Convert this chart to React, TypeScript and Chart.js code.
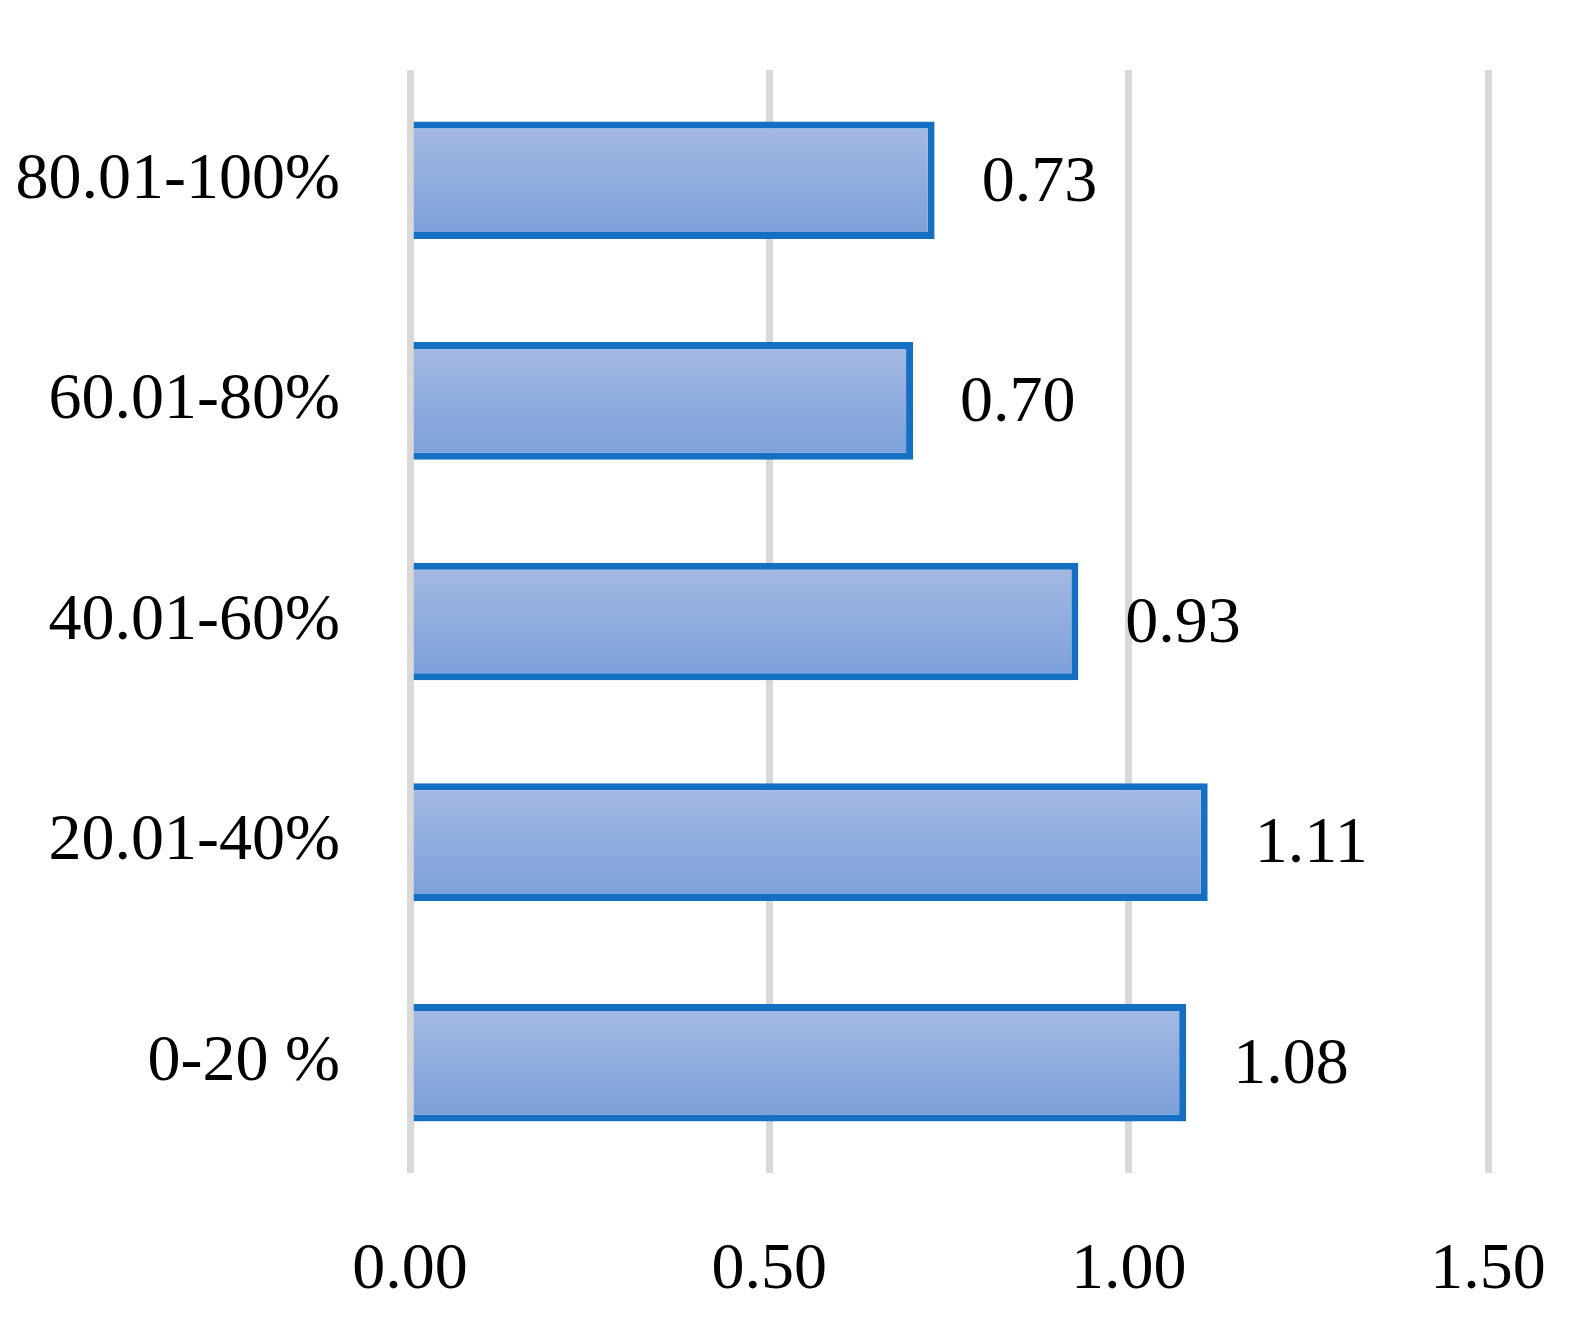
import React, { useEffect, useRef } from 'react';
import { Chart, registerables } from 'chart.js';

Chart.register(...registerables);

// data, bottom to top as in the source table
const groups = ['0-20 %', '20.01-40%', '40.01-60%', '60.01-80%', '80.01-100%'];
const ratios = [1.08, 1.11, 0.93, 0.70, 0.73];
const axisTicks = [0, 0.5, 1.0, 1.5];

const FONT = '"Liberation Serif", "DejaVu Serif", serif';

const barValueLabels = {
    id: 'barValueLabels',
    afterDatasetsDraw(chart: any) {
        const ctx = chart.ctx;
        const meta = chart.getDatasetMeta(0);
        ctx.save();
        ctx.font = `66px ${FONT}`;
        ctx.fillStyle = '#000000';
        ctx.textAlign = 'left';
        ctx.textBaseline = 'middle';
        meta.data.forEach((bar: any, i: number) => {
            ctx.fillText(ratios[i].toFixed(2), bar.x + 47, bar.y + 3);
        });
        ctx.restore();
    },
};

export default function App() {
    const canvasRef = useRef<HTMLCanvasElement | null>(null);

    useEffect(() => {
        let chart: Chart | null = null;
        if (canvasRef.current) {
            chart = new Chart(canvasRef.current, {
                type: 'bar',
                data: {
                    labels: groups,
                    datasets: [
                        {
                            data: ratios,
                            backgroundColor: (c: any) => {
                                const ch = c.chart;
                                if (!ch.chartArea || !ch.scales.y) return '#90aedd';
                                const yc = ch.scales.y.getPixelForValue(c.dataIndex);
                                const half = 58;
                                const g = ch.ctx.createLinearGradient(0, yc - half, 0, yc + half);
                                g.addColorStop(0, '#a6bae3');
                                g.addColorStop(1, '#7a9fd9');
                                return g;
                            },
                            borderColor: '#1570c4',
                            borderWidth: 7,
                            borderSkipped: 'start',
                            barPercentage: 0.533,
                            categoryPercentage: 1,
                        },
                    ],
                },
                options: {
                    indexAxis: 'y',
                    animation: false,
                    responsive: true,
                    maintainAspectRatio: false,
                    devicePixelRatio: 1,
                    layout: { padding: { top: 70, right: 86, left: 0, bottom: 0 } },
                    plugins: {
                        legend: { display: false },
                        tooltip: { enabled: false },
                    },
                    scales: {
                        x: {
                            min: 0,
                            max: 1.5,
                            afterBuildTicks: (scale: any) => {
                                scale.ticks = axisTicks.map(v => ({ value: v }));
                            },
                            afterFit: (scale: any) => {
                                scale.height = 156;
                            },
                            grid: {
                                color: '#d9d9d9',
                                lineWidth: 7,
                                drawTicks: true,
                                tickLength: 58,
                                tickColor: 'rgba(0,0,0,0)',
                            },
                            border: { display: false },
                            ticks: {
                                padding: 0,
                                color: '#000000',
                                font: { family: FONT, size: 66 },
                                maxRotation: 0,
                                callback: (v: any) => Number(v).toFixed(2),
                            },
                        },
                        y: {
                            reverse: true,
                            afterFit: (scale: any) => {
                                scale.width = 410;
                            },
                            grid: {
                                display: true,
                                drawOnChartArea: false,
                                drawTicks: true,
                                tickLength: 70,
                                color: 'rgba(0,0,0,0)',
                                tickColor: 'rgba(0,0,0,0)',
                            },
                            border: { display: false },
                            ticks: {
                                padding: 0,
                                color: '#000000',
                                font: { family: FONT, size: 66 },
                            },
                        },
                    },
                },
                plugins: [barValueLabels],
            });
        }
        return () => {
            if (chart) chart.destroy();
        };
    }, []);

    return (
        <div style={{ position: 'absolute', left: 0, top: 0, width: 1574, height: 1329, background: '#ffffff' }}>
            <canvas ref={canvasRef}></canvas>
        </div>
    );
}
